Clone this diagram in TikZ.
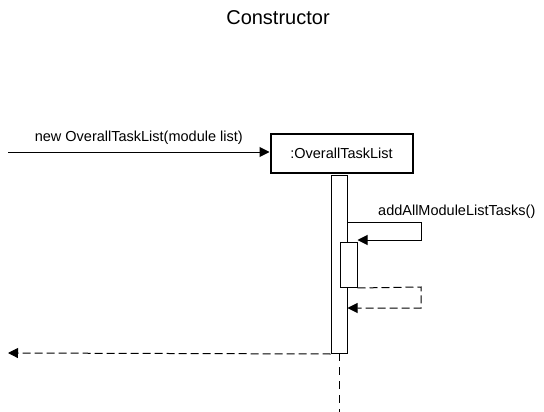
\documentclass[tikz,border=0pt]{standalone}
\usepackage{fontspec}
\setmainfont{Liberation Sans}
\usetikzlibrary{arrows.meta}
\begin{document}
\begin{tikzpicture}[x=1pt,y=-1pt,
  lbl/.style={font=\fontsize{14.5}{16}\selectfont, inner sep=0pt},
  msg/.style={line width=1pt,-{Triangle[length=10pt,width=10pt]}},
  ret/.style={msg,dash pattern=on 8pt off 4pt},
  bar/.style={draw,line width=1pt,fill=white}]
\useasboundingbox (0,0) rectangle (544,412);
\node[font=\fontsize{20}{22}\selectfont] (title) at (278,18) {Constructor};
\node[draw,line width=2pt,minimum width=142pt,minimum height=39pt,inner sep=0pt,font=\fontsize{14.5}{16}\selectfont] (obj) at (341.5,153) {:OverallTaskList};
\coordinate (life0) at (339,353);
\coordinate (life1) at (339,412);
\draw[line width=1pt,dash pattern=on 8pt off 6pt] (life0) -- (life1);
\node[bar,minimum width=16pt,minimum height=178pt,inner sep=0pt,anchor=north] (act) at (339,175) {};
\node[bar,minimum width=17pt,minimum height=45pt,inner sep=0pt,anchor=north west] (sub) at (339.5,242) {};
\coordinate (start) at (8,152);
\coordinate (endret) at (8,353);
\draw[msg] (start) -- (obj.west |- start) node[lbl,midway,above=7pt] (l1) {new OverallTaskList(module list)};
\coordinate (s1) at (act.east |- 0,222);
\coordinate (s2) at (421,222);
\coordinate (s3) at (421,240);
\draw[msg] (s1) -- (s2) -- (s3) -- (sub.east |- s3);
\node[lbl,anchor=base west] (l2) at (378,215) {addAllModuleListTasks()};
\coordinate (r2) at (421,287);
\coordinate (r3) at (421,308);
\draw[ret] (sub.south east) -- (r2) -- (r3) -- (act.east |- r3);
\draw[ret] (act.south west) -- (endret);
\end{tikzpicture}
\end{document}
